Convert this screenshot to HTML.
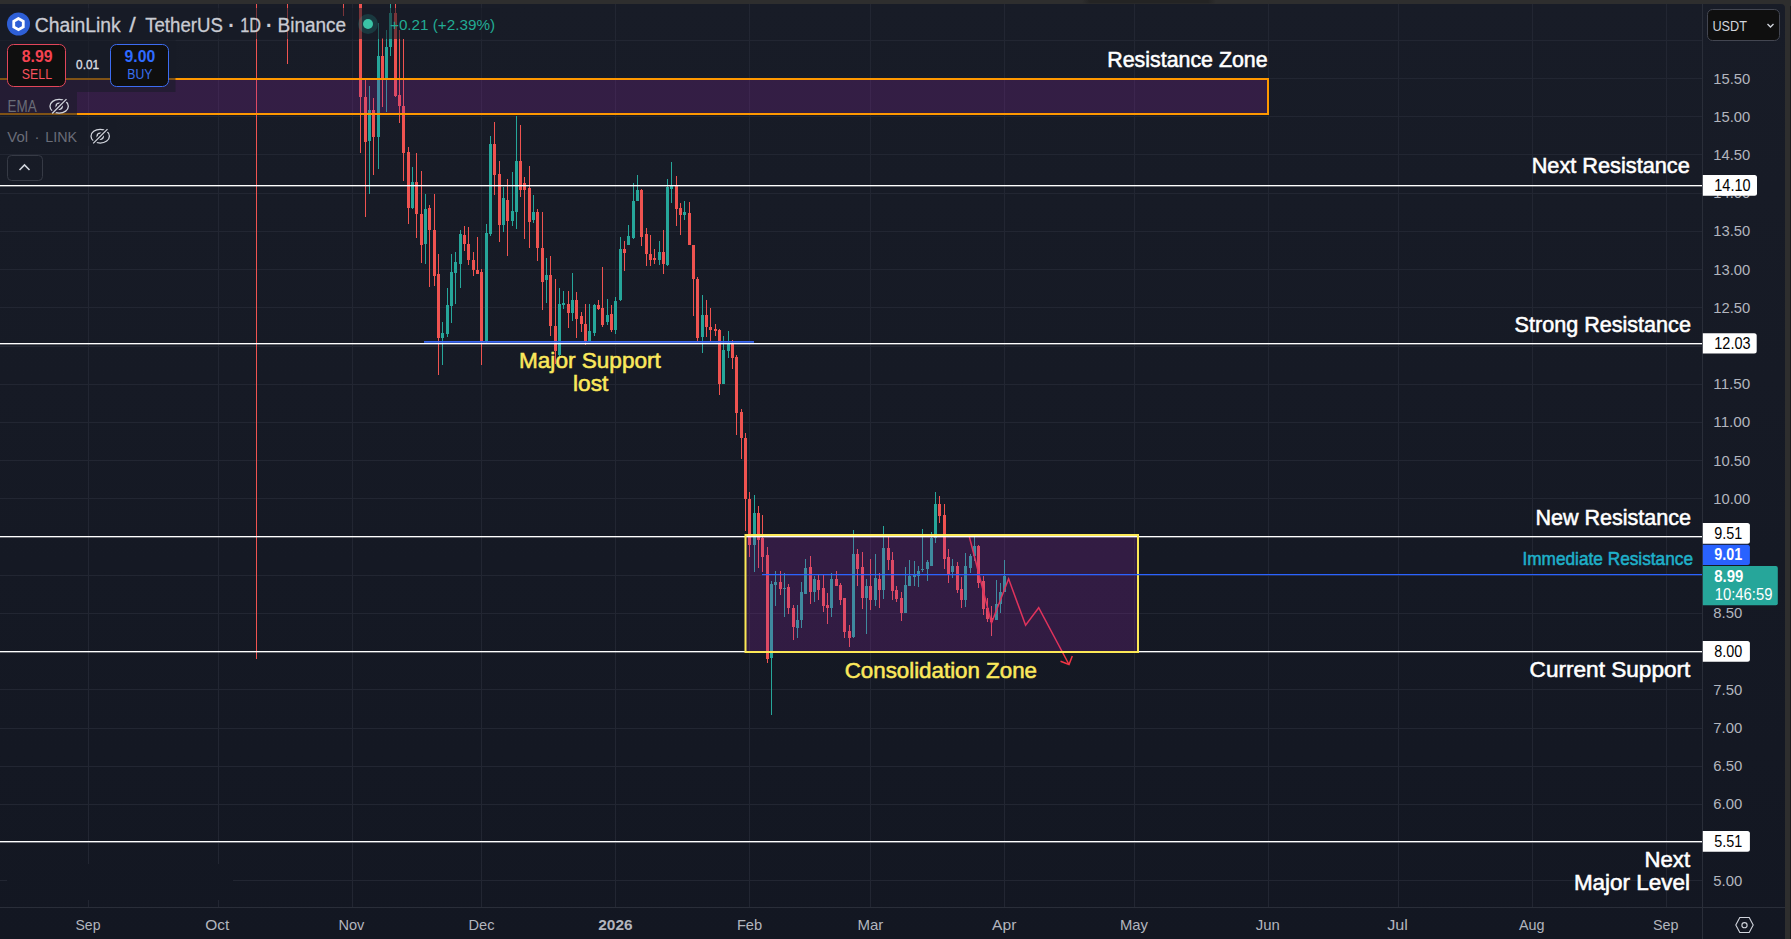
<!DOCTYPE html>
<html><head><meta charset="utf-8"><title>ChainLink / TetherUS · 1D · Binance</title>
<style>html,body{margin:0;padding:0;background:#2e2e2e;width:1791px;height:939px;overflow:hidden}svg{display:block}</style>
</head><body>
<svg width="1791" height="939" viewBox="0 0 1791 939" font-family="'Liberation Sans', Arial, sans-serif"><rect x="0" y="0" width="1791" height="939" fill="#2e2e2e"/>
<rect x="1790" y="6" width="1" height="939" fill="#1c1c1c"/>
<defs><linearGradient id="tabg" x1="1082" y1="0" x2="1216" y2="0" gradientUnits="userSpaceOnUse"><stop offset="0" stop-color="#2e2e2e"/><stop offset="0.06" stop-color="#242424"/><stop offset="0.94" stop-color="#242424"/><stop offset="1" stop-color="#2e2e2e"/></linearGradient></defs>
<rect x="1082" y="0" width="134" height="3.5" fill="url(#tabg)"/>
<defs><linearGradient id="bgg" x1="0" y1="4" x2="0" y2="939" gradientUnits="userSpaceOnUse"><stop offset="0" stop-color="#181c27"/><stop offset="1" stop-color="#131722"/></linearGradient></defs>
<path d="M0 4 H1781 Q1785 4 1785 8 V939 H0 Z" fill="url(#bgg)"/>
<path d="M88.5 4V907 M218.5 4V907 M352.5 4V907 M481.5 4V907 M615.5 4V907 M749.5 4V907 M870.5 4V907 M1004.5 4V907 M1134.5 4V907 M1268.5 4V907 M1398.5 4V907 M1532.5 4V907 M1666.5 4V907 M0 40.5H1702 M0 78.5H1702 M0 116.5H1702 M0 154.5H1702 M0 193.5H1702 M0 231.5H1702 M0 269.5H1702 M0 307.5H1702 M0 346.5H1702 M0 384.5H1702 M0 422.5H1702 M0 460.5H1702 M0 498.5H1702 M0 536.5H1702 M0 575.5H1702 M0 613.5H1702 M0 651.5H1702 M0 689.5H1702 M0 728.5H1702 M0 766.5H1702 M0 804.5H1702 M0 842.5H1702 M0 880.5H1702" stroke="#222632" stroke-width="1" fill="none"/>
<rect x="7" y="864" width="226" height="36" fill="url(#bgg)"/>
<rect x="256" y="4" width="1" height="655" fill="#ef5350"/>
<rect x="287" y="4" width="1" height="60" fill="#ef5350"/>
<rect x="343" y="4" width="1" height="12" fill="#ef5350"/>
<path d="M368 110h3v31h-3Z M369 86h1v108h-1Z M377 56h3v81h-3Z M378 23h1v146h-1Z M385 47h3v31h-3Z M386 30h1v82h-1Z M389 13h3v34h-3Z M390 4h1v52h-1Z M411 182h3v26h-3Z M412 167h1v42h-1Z M424 209h3v35h-3Z M425 194h1v70h-1Z M441 333h3v5h-3Z M442 322h1v43h-1Z M446 305h3v29h-3Z M447 288h1v49h-1Z M450 272h3v34h-3Z M451 254h1v69h-1Z M454 262h3v11h-3Z M455 252h1v52h-1Z M459 234h3v30h-3Z M460 230h1v58h-1Z M485 233h3v109h-3Z M486 224h1v120h-1Z M489 144h3v90h-3Z M490 136h1v100h-1Z M502 198h3v27h-3Z M503 187h1v45h-1Z M511 211h3v10h-3Z M512 172h1v54h-1Z M515 161h3v51h-3Z M516 116h1v113h-1Z M532 212h3v8h-3Z M533 195h1v28h-1Z M545 275h3v5h-3Z M546 258h1v45h-1Z M558 304h3v51h-3Z M559 288h1v70h-1Z M562 303h3v2h-3Z M563 291h1v18h-1Z M571 300h3v13h-3Z M572 273h1v48h-1Z M588 331h3v10h-3Z M589 304h1v38h-1Z M593 305h3v28h-3Z M594 304h1v32h-1Z M606 315h3v7h-3Z M607 299h1v26h-1Z M614 301h3v29h-3Z M615 297h1v37h-1Z M619 249h3v51h-3Z M620 237h1v64h-1Z M627 236h3v9h-3Z M628 225h1v20h-1Z M632 201h3v37h-3Z M633 183h1v56h-1Z M636 190h3v11h-3Z M637 175h1v26h-1Z M658 252h3v8h-3Z M659 241h1v24h-1Z M666 187h3v78h-3Z M667 179h1v87h-1Z M670 186h3v3h-3Z M671 162h1v41h-1Z M683 212h3v3h-3Z M684 201h1v19h-1Z M701 315h3v22h-3Z M702 295h1v58h-1Z M722 350h3v34h-3Z M723 336h1v48h-1Z M727 343h3v8h-3Z M728 331h1v27h-1Z M753 513h3v32h-3Z M754 495h1v77h-1Z M770 584h3v74h-3Z M771 581h1v134h-1Z M774 582h3v3h-3Z M775 571h1v35h-1Z M783 588h3v1h-3Z M784 573h1v44h-1Z M796 620h3v8h-3Z M797 605h1v33h-1Z M800 592h3v28h-3Z M801 582h1v46h-1Z M804 568h3v26h-3Z M805 559h1v35h-1Z M813 579h3v13h-3Z M814 576h1v26h-1Z M830 579h3v29h-3Z M831 573h1v44h-1Z M852 554h3v83h-3Z M853 530h1v108h-1Z M865 586h3v12h-3Z M866 579h1v55h-1Z M874 578h3v22h-3Z M875 554h1v52h-1Z M882 548h3v42h-3Z M883 526h1v73h-1Z M904 585h3v28h-3Z M905 567h1v46h-1Z M908 576h3v10h-3Z M909 560h1v26h-1Z M913 575h3v2h-3Z M914 561h1v25h-1Z M917 571h3v5h-3Z M918 566h1v21h-1Z M921 569h3v1h-3Z M922 529h1v43h-1Z M926 562h3v7h-3Z M927 560h1v21h-1Z M930 538h3v28h-3Z M931 532h1v34h-1Z M934 504h3v34h-3Z M935 492h1v51h-1Z M951 566h3v6h-3Z M952 559h1v19h-1Z M964 566h3v34h-3Z M965 553h1v54h-1Z M969 556h3v12h-3Z M970 554h1v19h-1Z M973 546h3v10h-3Z M974 537h1v24h-1Z M995 604h3v16h-3Z M996 580h1v40h-1Z M999 592h3v12h-3Z M1000 583h1v30h-1Z M1003 576h3v16h-3Z M1004 560h1v32h-1Z" fill="#26a69a"/>
<path d="M359 4h3v93h-3Z M360 4h1v149h-1Z M364 97h3v45h-3Z M365 80h1v137h-1Z M372 110h3v27h-3Z M373 98h1v77h-1Z M381 56h3v22h-3Z M382 38h1v69h-1Z M394 13h3v83h-3Z M395 4h1v93h-1Z M398 95h3v11h-3Z M399 30h1v93h-1Z M402 106h3v47h-3Z M403 39h1v142h-1Z M407 152h3v56h-3Z M408 147h1v77h-1Z M415 182h3v32h-3Z M416 153h1v85h-1Z M420 214h3v31h-3Z M421 171h1v92h-1Z M428 208h3v22h-3Z M429 205h1v82h-1Z M433 230h3v46h-3Z M434 194h1v92h-1Z M437 274h3v64h-3Z M438 254h1v121h-1Z M463 235h3v9h-3Z M464 226h1v25h-1Z M467 244h3v16h-3Z M468 227h1v38h-1Z M472 260h3v10h-3Z M473 252h1v24h-1Z M476 270h3v4h-3Z M477 237h1v37h-1Z M480 272h3v70h-3Z M481 269h1v96h-1Z M493 144h3v31h-3Z M494 122h1v73h-1Z M498 174h3v51h-3Z M499 161h1v81h-1Z M506 200h3v21h-3Z M507 179h1v77h-1Z M519 161h3v29h-3Z M520 125h1v72h-1Z M523 183h3v7h-3Z M524 177h1v62h-1Z M528 188h3v34h-3Z M529 166h1v82h-1Z M536 212h3v36h-3Z M537 209h1v52h-1Z M541 248h3v34h-3Z M542 212h1v98h-1Z M549 275h3v51h-3Z M550 256h1v80h-1Z M554 326h3v25h-3Z M555 279h1v85h-1Z M567 304h3v9h-3Z M568 291h1v37h-1Z M575 300h3v19h-3Z M576 292h1v46h-1Z M580 316h3v8h-3Z M581 312h1v20h-1Z M584 324h3v17h-3Z M585 304h1v41h-1Z M597 305h3v4h-3Z M598 300h1v10h-1Z M601 308h3v17h-3Z M602 267h1v60h-1Z M610 314h3v16h-3Z M611 305h1v27h-1Z M623 249h3v4h-3Z M624 241h1v30h-1Z M640 190h3v47h-3Z M641 189h1v57h-1Z M645 234h3v20h-3Z M646 228h1v38h-1Z M649 254h3v6h-3Z M650 235h1v31h-1Z M653 258h3v2h-3Z M654 249h1v15h-1Z M662 252h3v12h-3Z M663 230h1v44h-1Z M675 186h3v23h-3Z M676 176h1v50h-1Z M679 208h3v7h-3Z M680 203h1v32h-1Z M688 213h3v32h-3Z M689 202h1v43h-1Z M692 245h3v34h-3Z M693 245h1v71h-1Z M696 279h3v59h-3Z M697 277h1v64h-1Z M705 315h3v12h-3Z M706 300h1v37h-1Z M709 327h3v3h-3Z M710 308h1v33h-1Z M714 329h3v2h-3Z M715 324h1v12h-1Z M718 330h3v54h-3Z M719 329h1v66h-1Z M731 343h3v15h-3Z M732 340h1v29h-1Z M735 357h3v56h-3Z M736 355h1v80h-1Z M740 412h3v26h-3Z M741 409h1v50h-1Z M744 438h3v61h-3Z M745 433h1v98h-1Z M748 499h3v46h-3Z M749 492h1v65h-1Z M757 513h3v27h-3Z M758 506h1v62h-1Z M761 538h3v19h-3Z M762 515h1v57h-1Z M766 555h3v104h-3Z M767 547h1v116h-1Z M779 582h3v7h-3Z M780 571h1v24h-1Z M787 587h3v21h-3Z M788 584h1v30h-1Z M792 608h3v19h-3Z M793 605h1v35h-1Z M809 567h3v25h-3Z M810 556h1v48h-1Z M817 580h3v10h-3Z M818 575h1v25h-1Z M822 588h3v18h-3Z M823 575h1v37h-1Z M826 605h3v3h-3Z M827 593h1v31h-1Z M835 579h3v7h-3Z M836 571h1v15h-1Z M839 585h3v15h-3Z M840 583h1v22h-1Z M843 598h3v34h-3Z M844 598h1v40h-1Z M848 631h3v7h-3Z M849 625h1v22h-1Z M856 554h3v15h-3Z M857 549h1v37h-1Z M861 567h3v31h-3Z M862 552h1v57h-1Z M869 586h3v14h-3Z M870 559h1v51h-1Z M878 579h3v11h-3Z M879 573h1v35h-1Z M887 548h3v12h-3Z M888 537h1v33h-1Z M891 560h3v31h-3Z M892 552h1v48h-1Z M895 590h3v9h-3Z M896 586h1v16h-1Z M900 598h3v15h-3Z M901 592h1v29h-1Z M938 504h3v12h-3Z M939 496h1v27h-1Z M943 515h3v44h-3Z M944 504h1v65h-1Z M947 557h3v17h-3Z M948 549h1v34h-1Z M956 566h3v24h-3Z M957 562h1v31h-1Z M960 589h3v11h-3Z M961 577h1v31h-1Z M977 546h3v37h-3Z M978 545h1v43h-1Z M982 581h3v28h-3Z M983 576h1v39h-1Z M986 608h3v11h-3Z M987 598h1v24h-1Z M990 618h3v4h-3Z M991 606h1v30h-1Z" fill="#ef5350"/>
<path d="M969.4 537 L991.5 623 L1008.6 578.8 L1025.6 625.3 L1038.7 607.7 L1069 664.5" stroke="#f23645" stroke-width="1.5" fill="none" stroke-linejoin="miter"/>
<path d="M1060.5 661.2 L1069 664.5 L1072.3 656" stroke="#f23645" stroke-width="1.5" fill="none"/>
<rect x="-5" y="79" width="1273" height="35" fill="rgba(156,39,176,0.22)"/>
<rect x="745.5" y="535" width="392.5" height="117" fill="rgba(156,39,176,0.22)"/>
<rect x="0" y="185" width="1702" height="1.35" fill="#ffffff"/>
<rect x="0" y="343" width="1702" height="1.35" fill="#ffffff"/>
<rect x="0" y="536" width="1702" height="1.35" fill="#ffffff"/>
<rect x="0" y="651" width="1702" height="1.35" fill="#ffffff"/>
<rect x="0" y="841" width="1702" height="1.35" fill="#ffffff"/>
<rect x="-5" y="79" width="1273" height="35" fill="none" stroke="#ff9800" stroke-width="2"/>
<rect x="745.5" y="535" width="392.5" height="117" fill="none" stroke="#fce856" stroke-width="2"/>
<rect x="762" y="574" width="940" height="1.2" fill="#2962ff"/>
<rect x="424" y="341" width="330" height="1.8" fill="#3a66f0"/>
<text x="1107.3" y="66.8" font-size="22" fill="#ffffff" text-anchor="start" font-weight="normal" textLength="160.3" lengthAdjust="spacingAndGlyphs" stroke="#ffffff" stroke-width="0.55">Resistance Zone</text>
<text x="1531.7" y="172.6" font-size="22" fill="#ffffff" text-anchor="start" font-weight="normal" textLength="158.1" lengthAdjust="spacingAndGlyphs" stroke="#ffffff" stroke-width="0.55">Next Resistance</text>
<text x="1514.6" y="331.7" font-size="22" fill="#ffffff" text-anchor="start" font-weight="normal" textLength="176.3" lengthAdjust="spacingAndGlyphs" stroke="#ffffff" stroke-width="0.55">Strong Resistance</text>
<text x="1535.4" y="524.9" font-size="22" fill="#ffffff" text-anchor="start" font-weight="normal" textLength="155.5" lengthAdjust="spacingAndGlyphs" stroke="#ffffff" stroke-width="0.55">New Resistance</text>
<text x="1522.4" y="565.0" font-size="19" fill="#1fb0c9" text-anchor="start" font-weight="normal" textLength="170.6" lengthAdjust="spacingAndGlyphs" stroke="#1fb0c9" stroke-width="0.55">Immediate Resistance</text>
<text x="1529.6" y="677.1" font-size="22" fill="#ffffff" text-anchor="start" font-weight="normal" textLength="160.8" lengthAdjust="spacingAndGlyphs" stroke="#ffffff" stroke-width="0.55">Current Support</text>
<text x="1644.6" y="867.1" font-size="22" fill="#ffffff" text-anchor="start" font-weight="normal" textLength="45.5" lengthAdjust="spacingAndGlyphs" stroke="#ffffff" stroke-width="0.55">Next</text>
<text x="1573.9" y="889.9" font-size="22" fill="#ffffff" text-anchor="start" font-weight="normal" textLength="116.2" lengthAdjust="spacingAndGlyphs" stroke="#ffffff" stroke-width="0.55">Major Level</text>
<text x="519.0" y="368.0" font-size="22" fill="#fbe85c" text-anchor="start" font-weight="normal" textLength="141.8" lengthAdjust="spacingAndGlyphs" stroke="#fbe85c" stroke-width="0.55">Major Support</text>
<text x="573.0" y="390.9" font-size="22" fill="#fbe85c" text-anchor="start" font-weight="normal" textLength="35.3" lengthAdjust="spacingAndGlyphs" stroke="#fbe85c" stroke-width="0.55">lost</text>
<text x="844.7" y="677.8" font-size="22" fill="#fbe85c" text-anchor="start" font-weight="normal" textLength="192.3" lengthAdjust="spacingAndGlyphs" stroke="#fbe85c" stroke-width="0.55">Consolidation Zone</text>
<rect x="0" y="8" width="500" height="31" fill="rgba(24,28,39,0.55)"/>
<rect x="0" y="39" width="175.5" height="53" fill="rgba(24,28,39,0.55)"/>
<rect x="0" y="92" width="77" height="23" fill="rgba(24,28,39,0.55)"/>
<rect x="0" y="118" width="116" height="28" fill="rgba(24,28,39,0.55)"/>
<circle cx="18.5" cy="24" r="11.5" fill="#2e5fd6"/>
<polygon points="18.50,18.50 13.74,21.30 13.74,26.90 18.50,29.70 23.26,26.90 23.26,21.30" fill="none" stroke="#ffffff" stroke-width="2.8"/>
<g>
<text x="34.8" y="32.2" font-size="20" fill="#c9cbd3" text-anchor="start" font-weight="normal" textLength="86" lengthAdjust="spacingAndGlyphs" stroke="#c9cbd3" stroke-width="0.3">ChainLink</text>
<text x="129.2" y="32.2" font-size="20" fill="#c9cbd3" text-anchor="start" font-weight="normal" textLength="6.5" lengthAdjust="spacingAndGlyphs" stroke="#c9cbd3" stroke-width="0.3">/</text>
<text x="145.2" y="32.2" font-size="20" fill="#c9cbd3" text-anchor="start" font-weight="normal" textLength="77.7" lengthAdjust="spacingAndGlyphs" stroke="#c9cbd3" stroke-width="0.3">TetherUS</text>
<text x="231" y="32.8" font-size="30" fill="#c9cbd3" text-anchor="middle" font-weight="normal">·</text>
<text x="240.2" y="32.2" font-size="20" fill="#c9cbd3" text-anchor="start" font-weight="normal" textLength="20.8" lengthAdjust="spacingAndGlyphs" stroke="#c9cbd3" stroke-width="0.3">1D</text>
<text x="268.7" y="32.8" font-size="30" fill="#c9cbd3" text-anchor="middle" font-weight="normal">·</text>
<text x="277.5" y="32.2" font-size="20" fill="#c9cbd3" text-anchor="start" font-weight="normal" textLength="68.7" lengthAdjust="spacingAndGlyphs" stroke="#c9cbd3" stroke-width="0.3">Binance</text>
</g>
<circle cx="368" cy="24" r="10" fill="rgba(38,166,154,0.22)"/>
<circle cx="368" cy="24" r="5" fill="#3bc4a6"/>
<text x="390" y="30" font-size="15.5" fill="#22ab94" text-anchor="start" font-weight="normal" textLength="105" lengthAdjust="spacingAndGlyphs">+0.21 (+2.39%)</text>
<rect x="7.5" y="44.5" width="58" height="42" rx="6" fill="#0f0f0f" stroke="#e2465a" stroke-width="1"/>
<text x="21.8" y="62" font-size="16" fill="#f44352" text-anchor="start" font-weight="bold" textLength="30.7" lengthAdjust="spacingAndGlyphs">8.99</text>
<text x="21.8" y="79.3" font-size="14" fill="#f7525f" text-anchor="start" font-weight="normal" textLength="30.2" lengthAdjust="spacingAndGlyphs">SELL</text>
<text x="76.1" y="69" font-size="13" fill="#dddfe4" text-anchor="start" font-weight="normal" textLength="23.1" lengthAdjust="spacingAndGlyphs" stroke="#dddfe4" stroke-width="0.35">0.01</text>
<rect x="110.5" y="44.5" width="58" height="42" rx="6" fill="#0f0f0f" stroke="#3d6cf0" stroke-width="1"/>
<text x="124.5" y="62" font-size="16" fill="#2f6bff" text-anchor="start" font-weight="bold" textLength="30.7" lengthAdjust="spacingAndGlyphs">9.00</text>
<text x="127.3" y="79.3" font-size="14" fill="#3a70f0" text-anchor="start" font-weight="normal" textLength="25.1" lengthAdjust="spacingAndGlyphs">BUY</text>
<text x="7.6" y="111.8" font-size="16" fill="#6a6d78" text-anchor="start" font-weight="normal" textLength="29.1" lengthAdjust="spacingAndGlyphs">EMA</text>
<mask id="eyem1" maskUnits="userSpaceOnUse" x="44.15" y="91.25" width="30" height="30"><rect x="44.15" y="91.25" width="30" height="30" fill="#fff"/><path d="M52.15 113.45 L66.45 99.15" stroke="#000" stroke-width="4"/></mask><g stroke="#d1d4dc" stroke-width="1.3" fill="none"><g mask="url(#eyem1)"><ellipse cx="59.15" cy="106.25" rx="9.2" ry="6.9"/><circle cx="59.15" cy="106.25" r="3.1"/></g><path d="M52.15 113.45 L66.45 99.15"/></g>
<text x="7.3" y="142" font-size="15" fill="#6a6d78" text-anchor="start" font-weight="normal" textLength="20.7" lengthAdjust="spacingAndGlyphs">Vol</text>
<text x="36.9" y="142" font-size="15" fill="#6a6d78" text-anchor="middle" font-weight="normal">·</text>
<text x="45.3" y="142" font-size="15" fill="#6a6d78" text-anchor="start" font-weight="normal" textLength="31.8" lengthAdjust="spacingAndGlyphs">LINK</text>
<mask id="eyem2" maskUnits="userSpaceOnUse" x="85.2" y="121.19999999999999" width="30" height="30"><rect x="85.2" y="121.19999999999999" width="30" height="30" fill="#fff"/><path d="M93.2 143.39999999999998 L107.5 129.1" stroke="#000" stroke-width="4"/></mask><g stroke="#d1d4dc" stroke-width="1.3" fill="none"><g mask="url(#eyem2)"><ellipse cx="100.2" cy="136.2" rx="9.2" ry="6.9"/><circle cx="100.2" cy="136.2" r="3.1"/></g><path d="M93.2 143.39999999999998 L107.5 129.1"/></g>
<rect x="7.5" y="155.5" width="35" height="25" rx="4" fill="none" stroke="#363a45" stroke-width="1"/>
<path d="M19.5 170 L24.5 165 L29.5 170" stroke="#d1d4dc" stroke-width="1.6" fill="none"/>
<rect x="1702" y="4" width="1" height="935" fill="#2a2e39"/>
<rect x="0" y="907" width="1785" height="1" fill="#2a2e39"/>
<text x="1713.3" y="83.6" font-size="15.5" fill="#b2b5be" text-anchor="start" font-weight="normal" textLength="37" lengthAdjust="spacingAndGlyphs">15.50</text>
<text x="1713.3" y="121.8" font-size="15.5" fill="#b2b5be" text-anchor="start" font-weight="normal" textLength="37" lengthAdjust="spacingAndGlyphs">15.00</text>
<text x="1713.3" y="160.0" font-size="15.5" fill="#b2b5be" text-anchor="start" font-weight="normal" textLength="37" lengthAdjust="spacingAndGlyphs">14.50</text>
<text x="1713.3" y="198.2" font-size="15.5" fill="#b2b5be" text-anchor="start" font-weight="normal" textLength="37" lengthAdjust="spacingAndGlyphs">14.00</text>
<text x="1713.3" y="236.4" font-size="15.5" fill="#b2b5be" text-anchor="start" font-weight="normal" textLength="37" lengthAdjust="spacingAndGlyphs">13.50</text>
<text x="1713.3" y="274.6" font-size="15.5" fill="#b2b5be" text-anchor="start" font-weight="normal" textLength="37" lengthAdjust="spacingAndGlyphs">13.00</text>
<text x="1713.3" y="312.8" font-size="15.5" fill="#b2b5be" text-anchor="start" font-weight="normal" textLength="37" lengthAdjust="spacingAndGlyphs">12.50</text>
<text x="1713.3" y="351.0" font-size="15.5" fill="#b2b5be" text-anchor="start" font-weight="normal" textLength="37" lengthAdjust="spacingAndGlyphs">12.00</text>
<text x="1713.3" y="389.2" font-size="15.5" fill="#b2b5be" text-anchor="start" font-weight="normal" textLength="37" lengthAdjust="spacingAndGlyphs">11.50</text>
<text x="1713.3" y="427.4" font-size="15.5" fill="#b2b5be" text-anchor="start" font-weight="normal" textLength="37" lengthAdjust="spacingAndGlyphs">11.00</text>
<text x="1713.3" y="465.6" font-size="15.5" fill="#b2b5be" text-anchor="start" font-weight="normal" textLength="37" lengthAdjust="spacingAndGlyphs">10.50</text>
<text x="1713.3" y="503.8" font-size="15.5" fill="#b2b5be" text-anchor="start" font-weight="normal" textLength="37" lengthAdjust="spacingAndGlyphs">10.00</text>
<text x="1713.3" y="542.0" font-size="15.5" fill="#b2b5be" text-anchor="start" font-weight="normal" textLength="29" lengthAdjust="spacingAndGlyphs">9.50</text>
<text x="1713.3" y="580.2" font-size="15.5" fill="#b2b5be" text-anchor="start" font-weight="normal" textLength="29" lengthAdjust="spacingAndGlyphs">9.00</text>
<text x="1713.3" y="618.4" font-size="15.5" fill="#b2b5be" text-anchor="start" font-weight="normal" textLength="29" lengthAdjust="spacingAndGlyphs">8.50</text>
<text x="1713.3" y="656.6" font-size="15.5" fill="#b2b5be" text-anchor="start" font-weight="normal" textLength="29" lengthAdjust="spacingAndGlyphs">8.00</text>
<text x="1713.3" y="694.8" font-size="15.5" fill="#b2b5be" text-anchor="start" font-weight="normal" textLength="29" lengthAdjust="spacingAndGlyphs">7.50</text>
<text x="1713.3" y="733.0" font-size="15.5" fill="#b2b5be" text-anchor="start" font-weight="normal" textLength="29" lengthAdjust="spacingAndGlyphs">7.00</text>
<text x="1713.3" y="771.2" font-size="15.5" fill="#b2b5be" text-anchor="start" font-weight="normal" textLength="29" lengthAdjust="spacingAndGlyphs">6.50</text>
<text x="1713.3" y="809.4" font-size="15.5" fill="#b2b5be" text-anchor="start" font-weight="normal" textLength="29" lengthAdjust="spacingAndGlyphs">6.00</text>
<text x="1713.3" y="847.6" font-size="15.5" fill="#b2b5be" text-anchor="start" font-weight="normal" textLength="29" lengthAdjust="spacingAndGlyphs">5.50</text>
<text x="1713.3" y="885.8" font-size="15.5" fill="#b2b5be" text-anchor="start" font-weight="normal" textLength="29" lengthAdjust="spacingAndGlyphs">5.00</text>
<text x="88" y="930" font-size="15" fill="#b2b5be" text-anchor="middle" font-weight="normal" textLength="25.0" lengthAdjust="spacingAndGlyphs">Sep</text>
<text x="217.2" y="930" font-size="15" fill="#b2b5be" text-anchor="middle" font-weight="normal" textLength="24.0" lengthAdjust="spacingAndGlyphs">Oct</text>
<text x="351.35" y="930" font-size="15" fill="#b2b5be" text-anchor="middle" font-weight="normal" textLength="25.9" lengthAdjust="spacingAndGlyphs">Nov</text>
<text x="481.5" y="930" font-size="15" fill="#b2b5be" text-anchor="middle" font-weight="normal" textLength="26.0" lengthAdjust="spacingAndGlyphs">Dec</text>
<text x="615.4" y="930" font-size="15" fill="#b2b5be" text-anchor="middle" font-weight="bold" textLength="34.4" lengthAdjust="spacingAndGlyphs">2026</text>
<text x="749.55" y="930" font-size="15" fill="#b2b5be" text-anchor="middle" font-weight="normal" textLength="25.3" lengthAdjust="spacingAndGlyphs">Feb</text>
<text x="870.35" y="930" font-size="15" fill="#b2b5be" text-anchor="middle" font-weight="normal" textLength="25.9" lengthAdjust="spacingAndGlyphs">Mar</text>
<text x="1004.25" y="930" font-size="15" fill="#b2b5be" text-anchor="middle" font-weight="normal" textLength="24.3" lengthAdjust="spacingAndGlyphs">Apr</text>
<text x="1133.9" y="930" font-size="15" fill="#b2b5be" text-anchor="middle" font-weight="normal" textLength="28.0" lengthAdjust="spacingAndGlyphs">May</text>
<text x="1267.75" y="930" font-size="15" fill="#b2b5be" text-anchor="middle" font-weight="normal" textLength="24.1" lengthAdjust="spacingAndGlyphs">Jun</text>
<text x="1397.55" y="930" font-size="15" fill="#b2b5be" text-anchor="middle" font-weight="normal" textLength="20.7" lengthAdjust="spacingAndGlyphs">Jul</text>
<text x="1531.7" y="930" font-size="15" fill="#b2b5be" text-anchor="middle" font-weight="normal" textLength="25.6" lengthAdjust="spacingAndGlyphs">Aug</text>
<text x="1665.7" y="930" font-size="15" fill="#b2b5be" text-anchor="middle" font-weight="normal" textLength="25.6" lengthAdjust="spacingAndGlyphs">Sep</text>
<path d="M1702.8 175 H1754.5 Q1757 175 1757 177.5 V193.3 Q1757 195.8 1754.5 195.8 H1702.8 Z" fill="#ffffff"/><text x="1714.3" y="190.9" font-size="16" fill="#000000" text-anchor="start" font-weight="normal" textLength="36.2" lengthAdjust="spacingAndGlyphs">14.10</text>
<path d="M1702.8 333.3 H1754.2 Q1756.7 333.3 1756.7 335.8 V351.1 Q1756.7 353.6 1754.2 353.6 H1702.8 Z" fill="#ffffff"/><text x="1714.3" y="349.0" font-size="16" fill="#000000" text-anchor="start" font-weight="normal" textLength="36.2" lengthAdjust="spacingAndGlyphs">12.03</text>
<path d="M1702.8 523 H1747.4 Q1749.9 523 1749.9 525.5 V541.3 Q1749.9 543.8 1747.4 543.8 H1702.8 Z" fill="#ffffff"/><text x="1714.3" y="538.9" font-size="16" fill="#000000" text-anchor="start" font-weight="normal" textLength="28" lengthAdjust="spacingAndGlyphs">9.51</text>
<path d="M1702.8 544.8 H1747.4 Q1749.9 544.8 1749.9 547.3 V562.5 Q1749.9 565 1747.4 565 H1702.8 Z" fill="#2962ff"/><text x="1714.3" y="560.4" font-size="16" fill="#ffffff" text-anchor="start" font-weight="bold" textLength="28" lengthAdjust="spacingAndGlyphs">9.01</text>
<path d="M1702.8 641 H1747.4 Q1749.9 641 1749.9 643.5 V659.2 Q1749.9 661.7 1747.4 661.7 H1702.8 Z" fill="#ffffff"/><text x="1714.3" y="656.9" font-size="16" fill="#000000" text-anchor="start" font-weight="normal" textLength="28" lengthAdjust="spacingAndGlyphs">8.00</text>
<path d="M1702.8 831 H1747.4 Q1749.9 831 1749.9 833.5 V849.2 Q1749.9 851.7 1747.4 851.7 H1702.8 Z" fill="#ffffff"/><text x="1714.3" y="846.9" font-size="16" fill="#000000" text-anchor="start" font-weight="normal" textLength="28" lengthAdjust="spacingAndGlyphs">5.51</text>
<path d="M1702.8 566 H1775.8 Q1777.8 566 1777.8 568 V603.3 Q1777.8 605.3 1775.8 605.3 H1702.8 Z" fill="#26a69a"/>
<text x="1714.3" y="581.9" font-size="16" fill="#ffffff" text-anchor="start" font-weight="bold" textLength="29" lengthAdjust="spacingAndGlyphs">8.99</text>
<text x="1714.8" y="600.2" font-size="16" fill="#ffffff" text-anchor="start" font-weight="normal" textLength="57.6" lengthAdjust="spacingAndGlyphs">10:46:59</text>
<rect x="1707.5" y="9.5" width="72" height="31" rx="5" fill="#0f0f0f" stroke="#434651" stroke-width="1"/>
<text x="1712.4" y="31.3" font-size="15.5" fill="#d1d4dc" text-anchor="start" font-weight="normal" textLength="34.5" lengthAdjust="spacingAndGlyphs">USDT</text>
<path d="M1767.5 24 L1770.5 27 L1773.5 24" stroke="#d1d4dc" stroke-width="1.4" fill="none"/>
<path d="M1735.8 925 L1739.8 917.5 L1749.2 917.5 L1753.2 925 L1749.2 932.5 L1739.8 932.5 Z" stroke="#d1d4dc" stroke-width="1.1" fill="none"/>
<circle cx="1744.5" cy="925.2" r="2.6" stroke="#d1d4dc" stroke-width="1.1" fill="none"/></svg>
</body></html>
